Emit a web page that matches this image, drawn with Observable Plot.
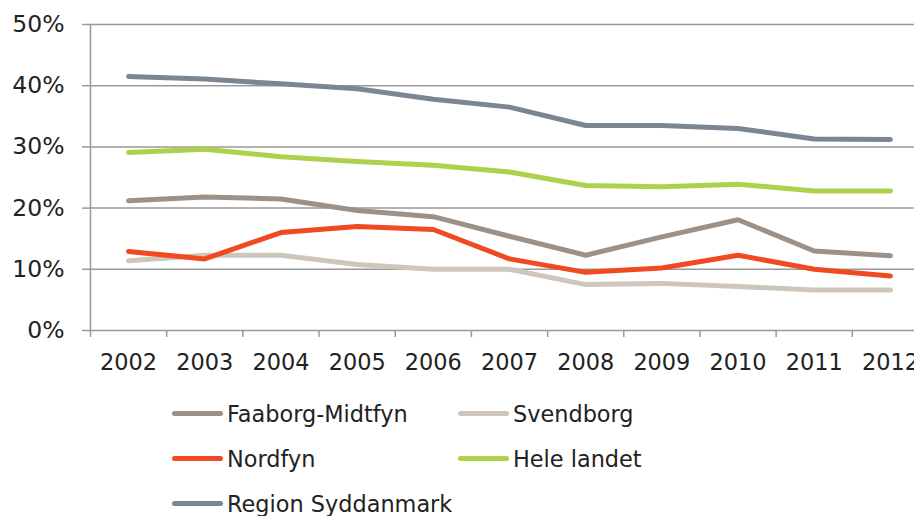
<!DOCTYPE html>
<html>
<head>
<meta charset="utf-8">
<script src="https://cdn.jsdelivr.net/npm/d3@7"></script>
<script src="https://cdn.jsdelivr.net/npm/@observablehq/plot@0.6"></script>
<style>
  html, body { margin: 0; padding: 0; background: #fff; }
  body { width: 914px; height: 516px; overflow: hidden; font-family: "DejaVu Sans", sans-serif; }
  #legend { display: grid; grid-template-columns: 286px 300px; padding-left: 172px; padding-top: 6px; }
  .item { display: flex; align-items: center; height: 45px; font-size: 22.4px; color: #222; }
  .sw { width: 51px; height: 5px; border-radius: 3px; margin-right: 4px; }
</style>
</head>
<body>
<div id="chart"></div>
<div id="legend"></div>
<script>
const years = [2002, 2003, 2004, 2005, 2006, 2007, 2008, 2009, 2010, 2011, 2012];
const seriesNames = ["Faaborg-Midtfyn", "Svendborg", "Nordfyn", "Hele landet", "Region Syddanmark"];
const colors = ["#9b9188", "#cfc6bb", "#f04a22", "#acd14c", "#7b8692"];
const faaborg = [21.2, 21.8, 21.5, 19.6, 18.6, 15.4, 12.3, 15.3, 18.1, 13.0, 12.2];
const svendborg = [11.4, 12.3, 12.3, 10.8, 10.0, 10.0, 7.5, 7.7, 7.2, 6.6, 6.6];
const nordfyn = [12.9, 11.7, 16.0, 17.0, 16.5, 11.7, 9.5, 10.2, 12.3, 10.0, 8.9];
const heleLandet = [29.1, 29.6, 28.4, 27.6, 27.0, 25.9, 23.7, 23.5, 23.9, 22.8, 22.8];
const region = [41.5, 41.1, 40.3, 39.5, 37.8, 36.5, 33.5, 33.5, 33.0, 31.3, 31.2];
const yTicks = [0, 10, 20, 30, 40, 50];
const xBoundaries = [2001.5, 2002.5, 2003.5, 2004.5, 2005.5, 2006.5, 2007.5, 2008.5, 2009.5, 2010.5, 2011.5];

const seriesValues = [faaborg, svendborg, nordfyn, heleLandet, region];
const data = [];
seriesNames.forEach((name, i) => {
  years.forEach((yr, j) => data.push({series: name, year: yr, value: seriesValues[i][j]}));
});

const gridColor = "#999";

const chart = Plot.plot({
  width: 914,
  height: 385,
  marginLeft: 90,
  marginRight: 0,
  marginTop: 24,
  marginBottom: 55,
  style: {fontFamily: "DejaVu Sans, sans-serif", fontSize: "22px", color: "#222", background: "#fff"},
  x: {type: "linear", domain: [2001.5, 2012.5], range: [90, 928]},
  y: {domain: [0, 50], range: [330, 24]},
  color: {domain: seriesNames, range: colors},
  marks: [
    Plot.ruleY(yTicks, {stroke: gridColor, strokeWidth: 1.5}),
    Plot.ruleX([2001.5], {y1: 0, y2: 50, stroke: gridColor, strokeWidth: 1.5}),
    Plot.axisY({ticks: yTicks, tickFormat: d => d + "%", tickSize: 8, tickPadding: 18, stroke: gridColor, strokeWidth: 1.5, fontSize: 23.5, fill: "#222", label: null}),
    Plot.axisX({ticks: xBoundaries, tickFormat: () => "", tickSize: 7, stroke: gridColor, strokeWidth: 1.5, label: null}),
    Plot.axisX({ticks: years, tickFormat: d => String(d), tickSize: 0, tickPadding: 24, fontSize: 22.4, fill: "#222", label: null}),
    Plot.line(data, {x: "year", y: "value", z: "series", stroke: "series", strokeWidth: 5, strokeLinecap: "round", strokeLinejoin: "round", curve: "linear"})
  ]
});
document.getElementById("chart").appendChild(chart);

const legend = document.getElementById("legend");
seriesNames.forEach((name, i) => {
  const item = document.createElement("div");
  item.className = "item";
  const sw = document.createElement("span");
  sw.className = "sw";
  sw.style.background = colors[i];
  const t = document.createElement("span");
  t.textContent = name;
  item.appendChild(sw);
  item.appendChild(t);
  legend.appendChild(item);
});
</script>
</body>
</html>
